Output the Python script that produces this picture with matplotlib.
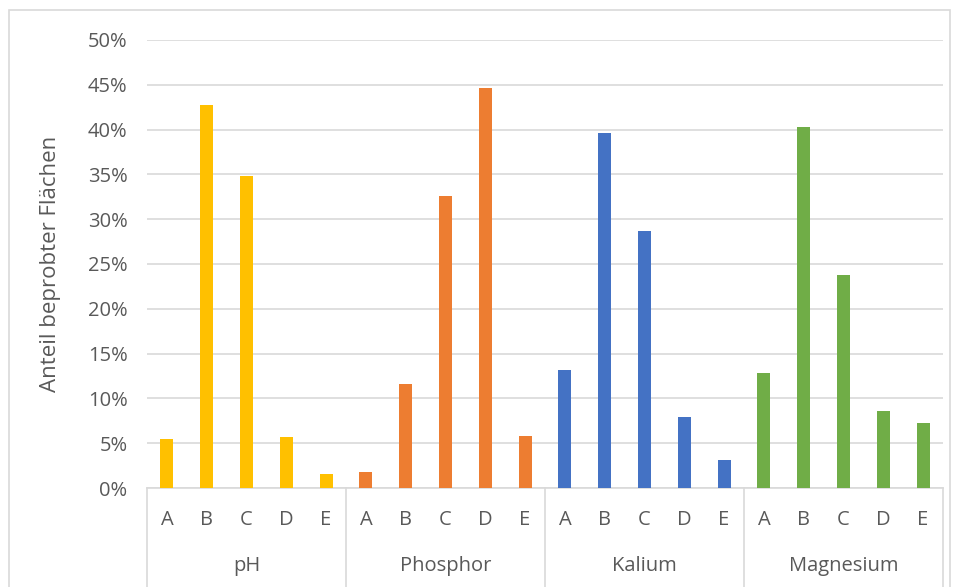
import matplotlib.pyplot as plt
import matplotlib.patches as patches
from matplotlib.ticker import PercentFormatter
import numpy as np

plt.rcParams['font.family'] = ['Open Sans', 'DejaVu Sans']

# Daten
groups = ['pH', 'Phosphor', 'Kalium', 'Magnesium']
classes = ['A', 'B', 'C', 'D', 'E']
ph = [5.5, 42.7, 34.8, 5.7, 1.6]
phosphor = [1.8, 11.6, 32.6, 44.6, 5.8]
kalium = [13.2, 39.6, 28.7, 7.9, 3.1]
magnesium = [12.8, 40.3, 23.8, 8.6, 7.3]
colors = ['#FFC000', '#ED7D31', '#4472C4', '#70AD47']

W, H = 955, 587
fig = plt.figure(figsize=(W / 100, H / 100), dpi=100)
ax = fig.add_axes([147 / W, 1 - 488 / H, (943 - 147) / W, (488 - 40) / H])

txt = '#595959'
grid = '#D9D9D9'

# Balken
series = [ph, phosphor, kalium, magnesium]
n = len(classes)
for g, (vals, c) in enumerate(zip(series, colors)):
    x = np.arange(n) + g * n
    ax.bar(x, vals, width=0.33, color=c, zorder=3)

ax.set_xlim(-0.5, len(groups) * n - 0.5)
ax.set_ylim(0, 50)
ax.set_yticks(np.arange(0, 51, 5))
ax.yaxis.set_major_formatter(PercentFormatter(decimals=0))
ax.grid(axis='y', color=grid, linewidth=1.2, zorder=0)
ax.tick_params(axis='y', length=0, pad=14, labelsize=14.5, labelcolor=txt)
ax.set_xticks([])
for s in ['left', 'right', 'top']:
    ax.spines[s].set_visible(False)
ax.spines['bottom'].set_color(grid)
ax.spines['bottom'].set_linewidth(1.2)

ax.set_ylabel('Anteil beprobter Flächen', fontsize=16, color=txt, labelpad=19)

# Zweistufige Kategorienachse
trans = ax.get_xaxis_transform()
y_cls = -(520 - 488) / 448
y_grp = -(566 - 488) / 448
y_end = -(H - 488) / 448
for g, name in enumerate(groups):
    for i, c in enumerate(classes):
        ax.text(g * n + i, y_cls, c, transform=trans, ha='center', va='center',
                fontsize=14.5, color=txt)
    ax.text(g * n + (n - 1) / 2, y_grp, name, transform=trans, ha='center',
            va='center', fontsize=14.5, color=txt)
for b in range(len(groups) + 1):
    ax.plot([b * n - 0.5] * 2, [0, y_end], transform=trans, color=grid,
            linewidth=1.2, clip_on=False)

# Rahmen
fig.patches.append(patches.Rectangle((9 / W, -0.01), (950 - 9) / W, 1 - 10 / H + 0.01,
                                     transform=fig.transFigure, fill=False,
                                     edgecolor='#D9D9D9', linewidth=1.2))

fig.savefig('out.png', dpi=100)
